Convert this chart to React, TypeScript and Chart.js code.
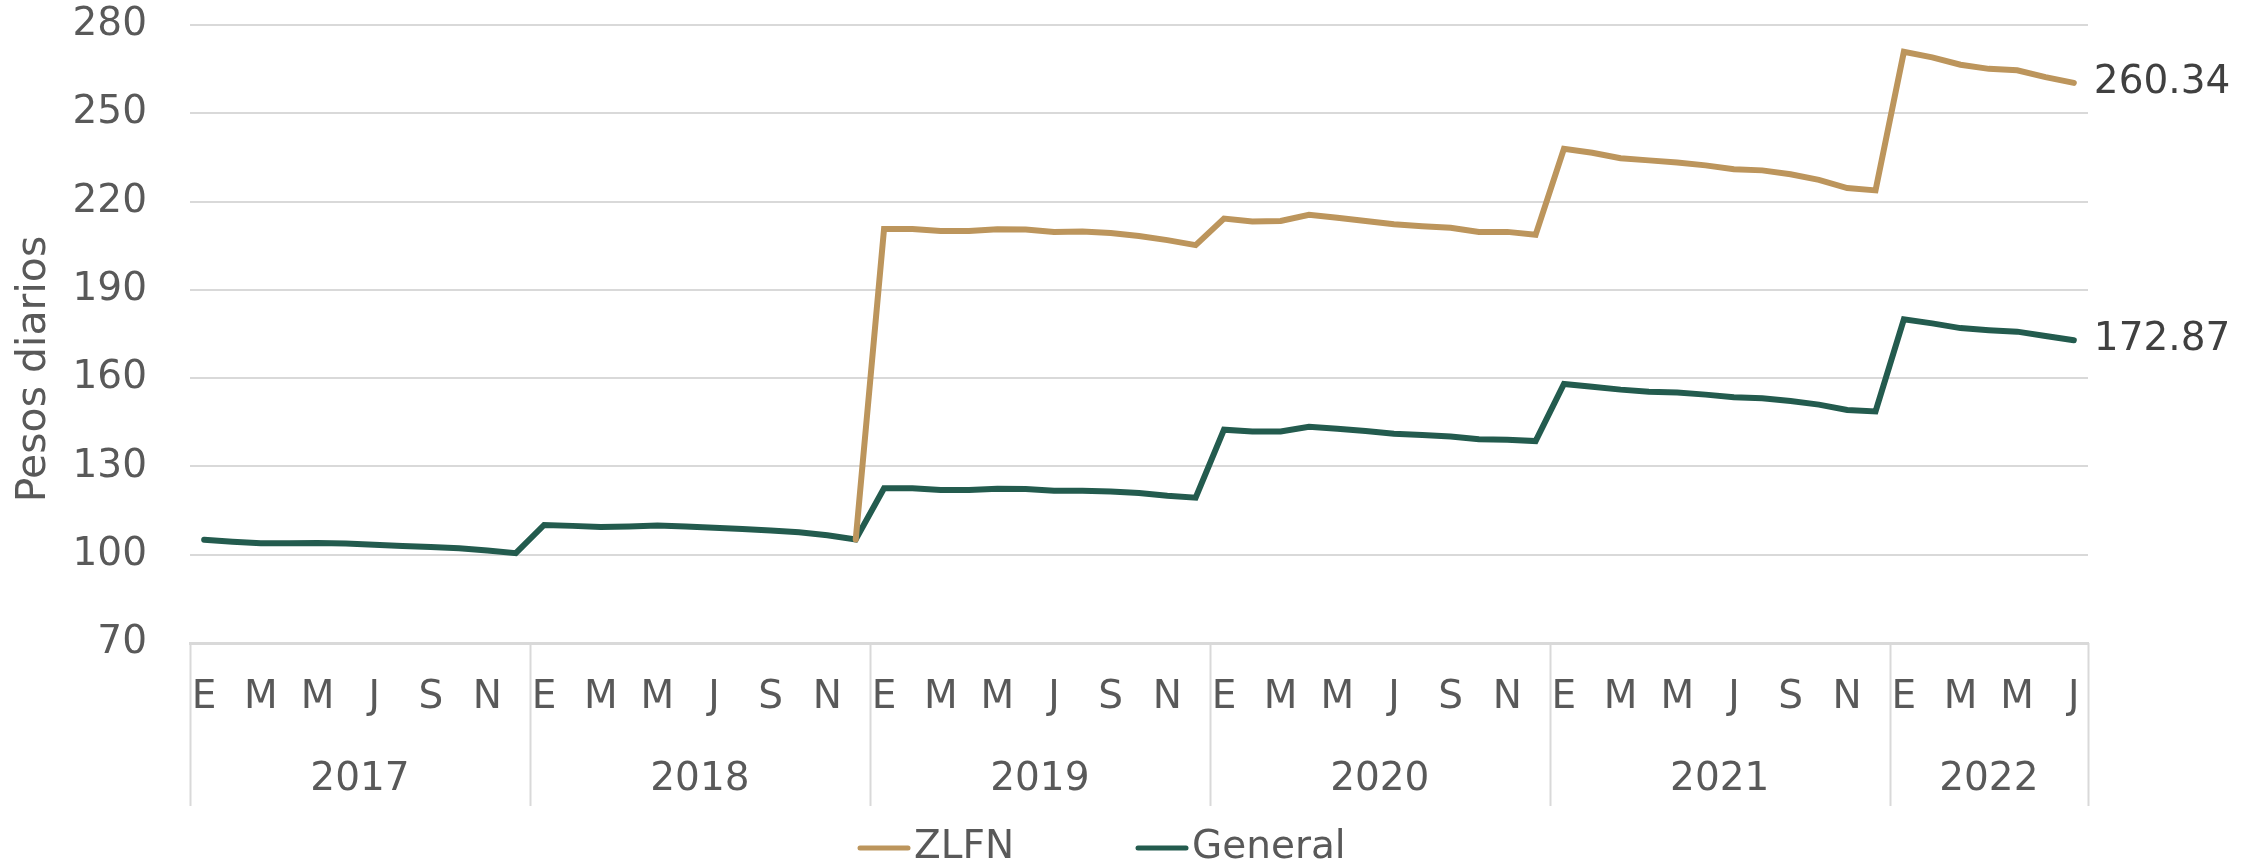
import React, { useEffect, useRef } from 'react';
import { Chart, registerables } from 'chart.js';

Chart.register(...registerables);

// ---- data ----
const MONTH_LETTERS = ['E', 'F', 'M', 'A', 'M', 'J', 'J', 'A', 'S', 'O', 'N', 'D'];
const YEARS = ['2017', '2018', '2019', '2020', '2021', '2022'];
const MONTHS_IN_YEAR = [12, 12, 12, 12, 12, 7];
const Y_MIN = 70;
const Y_MAX = 280;
const Y_STEP = 30;
const SERIES_NAMES = ['ZLFN', 'General'];
const Y_TITLE = 'Pesos diarios';

const GENERAL_2017 = [105.1, 104.4, 103.9, 103.9, 104.0, 103.8, 103.4, 103.0, 102.6, 102.2, 101.4, 100.5];
const GENERAL_2018 = [110.1, 109.8, 109.4, 109.6, 109.9, 109.6, 109.2, 108.7, 108.2, 107.6, 106.6, 105.2];
const GENERAL_2019 = [122.6, 122.6, 122.0, 122.0, 122.4, 122.3, 121.7, 121.7, 121.5, 121.0, 120.0, 119.4];
const GENERAL_2020 = [142.5, 141.9, 141.9, 143.5, 142.8, 142.0, 141.1, 140.7, 140.2, 139.2, 139.1, 138.6];
const GENERAL_2021 = [158.0, 157.1, 156.1, 155.4, 155.1, 154.4, 153.5, 153.2, 152.2, 151.0, 149.2, 148.7];
const GENERAL_2022 = [180.0, 178.6, 177.0, 176.3, 175.8, 174.3, 172.87];

// ZLFN exists from Dec 2018 (same value as General) onwards
const ZLFN_2017 = [null, null, null, null, null, null, null, null, null, null, null, null];
const ZLFN_2018 = [null, null, null, null, null, null, null, null, null, null, null, 105.2];
const ZLFN_2019 = [210.7, 210.7, 210.0, 210.0, 210.6, 210.5, 209.7, 209.8, 209.3, 208.3, 206.9, 205.2];
const ZLFN_2020 = [214.2, 213.2, 213.4, 215.5, 214.5, 213.4, 212.3, 211.6, 211.1, 209.7, 209.7, 208.7];
const ZLFN_2021 = [237.9, 236.6, 234.7, 234.0, 233.3, 232.3, 231.0, 230.6, 229.3, 227.4, 224.6, 223.8];
const ZLFN_2022 = [270.9, 269.0, 266.5, 265.1, 264.6, 262.3, 260.34];

const GENERAL: (number | null)[] = [
  ...GENERAL_2017, ...GENERAL_2018, ...GENERAL_2019, ...GENERAL_2020, ...GENERAL_2021, ...GENERAL_2022,
];
const ZLFN: (number | null)[] = [
  ...ZLFN_2017, ...ZLFN_2018, ...ZLFN_2019, ...ZLFN_2020, ...ZLFN_2021, ...ZLFN_2022,
];

const LABELS: string[] = [];
YEARS.forEach((y, yi) => {
  for (let m = 0; m < MONTHS_IN_YEAR[yi]; m++) LABELS.push(`${MONTH_LETTERS[m]}-${y}`);
});

// ---- style ----
const FONT = '"DejaVu Sans", "Noto Sans", sans-serif';
const FONT_SIZE = 39;
const TEXT_COLOR = '#595959';
const GRID_COLOR = '#d9d9d9';
const ZLFN_COLOR = '#BC955C';
const GENERAL_COLOR = '#235B4E';

const decorPlugin = {
  id: 'decor',
  afterDraw(chart: any) {
    const { ctx, chartArea } = chart;
    const xs = chart.scales.x;
    const half = (xs.getPixelForValue(1) - xs.getPixelForValue(0)) / 2;
    ctx.save();
    // year separators
    ctx.strokeStyle = GRID_COLOR;
    ctx.lineWidth = 2;
    let idx = 0;
    const bounds: number[] = [];
    MONTHS_IN_YEAR.forEach((n) => {
      bounds.push(xs.getPixelForValue(idx) - half);
      idx += n;
    });
    bounds.push(xs.getPixelForValue(idx - 1) + half);
    bounds.forEach((bx) => {
      ctx.beginPath();
      ctx.moveTo(Math.round(bx) + 0.5, chartArea.bottom);
      ctx.lineTo(Math.round(bx) + 0.5, 806);
      ctx.stroke();
    });
    // year labels
    ctx.fillStyle = TEXT_COLOR;
    ctx.font = `${FONT_SIZE}px ${FONT}`;
    ctx.textAlign = 'center';
    ctx.textBaseline = 'middle';
    YEARS.forEach((y, i) => {
      ctx.fillText(y, (bounds[i] + bounds[i + 1]) / 2, 780);
    });
    // end-of-series value labels
    ctx.fillStyle = '#404040';
    ctx.textAlign = 'left';
    chart.data.datasets.forEach((ds: any, di: number) => {
      const meta = chart.getDatasetMeta(di);
      const last = ds.data.length - 1;
      const pt = meta.data[last];
      if (pt && ds.data[last] != null) {
        ctx.fillText(ds.data[last].toFixed(2), pt.x + 20, pt.y);
      }
    });
    // y-axis title
    ctx.fillStyle = TEXT_COLOR;
    ctx.save();
    ctx.font = `41px ${FONT}`;
    ctx.translate(34, 369);
    ctx.rotate(-Math.PI / 2);
    ctx.textAlign = 'center';
    ctx.textBaseline = 'middle';
    ctx.fillText(Y_TITLE, 0, 0);
    ctx.restore();
    // legend
    const legendY = 848;
    const items = [
      { name: SERIES_NAMES[0], color: ZLFN_COLOR, x: 860 },
      { name: SERIES_NAMES[1], color: GENERAL_COLOR, x: 1138 },
    ];
    items.forEach((it) => {
      ctx.strokeStyle = it.color;
      ctx.lineWidth = 5;
      ctx.lineCap = 'round';
      ctx.beginPath();
      ctx.moveTo(it.x, legendY);
      ctx.lineTo(it.x + 48, legendY);
      ctx.stroke();
      ctx.fillStyle = TEXT_COLOR;
      ctx.textAlign = 'left';
      ctx.textBaseline = 'middle';
      ctx.fillText(it.name, it.x + 54, legendY);
    });
    ctx.restore();
  },
};

export default function App() {
  const ref = useRef<HTMLCanvasElement | null>(null);
  useEffect(() => {
    if (!ref.current) return;
    const chart = new Chart(ref.current, {
      type: 'line',
      data: {
        labels: LABELS,
        datasets: [
          {
            label: SERIES_NAMES[0],
            data: ZLFN,
            borderColor: ZLFN_COLOR,
            backgroundColor: ZLFN_COLOR,
            borderWidth: 6,
            pointRadius: 0,
            tension: 0,
            borderCapStyle: 'round',
          },
          {
            label: SERIES_NAMES[1],
            data: GENERAL,
            borderColor: GENERAL_COLOR,
            backgroundColor: GENERAL_COLOR,
            borderWidth: 6,
            pointRadius: 0,
            tension: 0,
            borderCapStyle: 'round',
          },
        ],
      },
      options: {
        animation: false,
        responsive: false,
        maintainAspectRatio: false,
        layout: { padding: { top: 25, right: 174, bottom: 0, left: 0 } },
        plugins: { legend: { display: false }, tooltip: { enabled: false } },
        scales: {
          x: {
            type: 'category',
            offset: true,
            grid: { display: false, drawTicks: false },
            border: { display: true, color: GRID_COLOR, width: 3 },
            ticks: {
              autoSkip: false,
              maxRotation: 0,
              minRotation: 0,
              padding: 31,
              color: TEXT_COLOR,
              font: { family: FONT, size: FONT_SIZE },
              callback: (_v: any, i: number) => (i % 2 === 0 ? MONTH_LETTERS[i % 12] : ''),
            },
            afterFit: (s: any) => {
              s.height = 224;
            },
          },
          y: {
            min: Y_MIN,
            max: Y_MAX,
            ticks: {
              stepSize: Y_STEP,
              padding: 43,
              color: TEXT_COLOR,
              font: { family: FONT, size: FONT_SIZE },
            },
            grid: { color: GRID_COLOR, lineWidth: 2, drawTicks: false },
            border: { display: false },
            afterFit: (s: any) => {
              s.width = 190;
              s.paddingTop = 0;
              s.paddingBottom = 0;
            },
          },
        },
      },
      plugins: [decorPlugin],
    });
    return () => chart.destroy();
  }, []);
  return (
    <div style={{ position: 'absolute', left: 0, top: 0, width: 2262, height: 867, background: '#ffffff' }}>
      <canvas ref={ref} width={2262} height={867} style={{ display: 'block', width: 2262, height: 867 }} />
    </div>
  );
}
